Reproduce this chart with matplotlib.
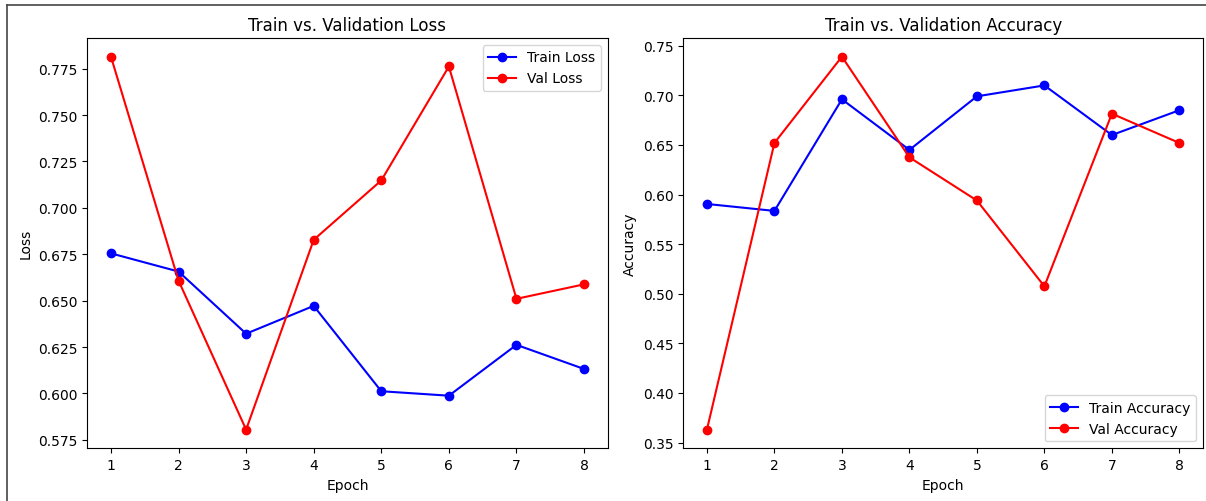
import matplotlib
matplotlib.use("Agg")
import matplotlib.pyplot as plt
from matplotlib.lines import Line2D

epochs = [1, 2, 3, 4, 5, 6, 7, 8]
train_loss = [0.6755, 0.6657, 0.6322, 0.6472, 0.6012, 0.5988, 0.6262, 0.6132]
val_loss = [0.7815, 0.6608, 0.5805, 0.6828, 0.7148, 0.7762, 0.6510, 0.6588]
train_acc = [0.5905, 0.5835, 0.6960, 0.6450, 0.6990, 0.7100, 0.6600, 0.6850]
val_acc = [0.3630, 0.6520, 0.7390, 0.6375, 0.5940, 0.5075, 0.6815, 0.6520]

W, H = 1206, 502
fig = plt.figure(figsize=(W / 100, H / 100), dpi=100)

ax1 = fig.add_axes([87.3 / W, 1 - 449.3 / H, 520.4 / W, 410.3 / H])
ax2 = fig.add_axes([683.3 / W, 1 - 449.3 / H, 519.7 / W, 410.3 / H])

ax1.plot(epochs, train_loss, color="blue", marker="o", label="Train Loss")
ax1.plot(epochs, val_loss, color="red", marker="o", label="Val Loss")
ax1.set_title("Train vs. Validation Loss")
ax1.set_xlabel("Epoch")
ax1.set_ylabel("Loss")
ax1.legend(loc="upper right")

ax2.plot(epochs, train_acc, color="blue", marker="o", label="Train Accuracy")
ax2.plot(epochs, val_acc, color="red", marker="o", label="Val Accuracy")
ax2.set_title("Train vs. Validation Accuracy")
ax2.set_xlabel("Epoch")
ax2.set_ylabel("Accuracy")
ax2.legend(loc="lower right")

# screenshot frame lines (top and left)
fig.add_artist(Line2D([7 / W, 1], [1 - 5.5 / H, 1 - 5.5 / H], transform=fig.transFigure,
                      color="#444444", linewidth=1.2))
fig.add_artist(Line2D([7 / W, 7 / W], [0, 1 - 5.5 / H], transform=fig.transFigure,
                      color="#444444", linewidth=1.2))

fig.savefig("out.png", dpi=100)
